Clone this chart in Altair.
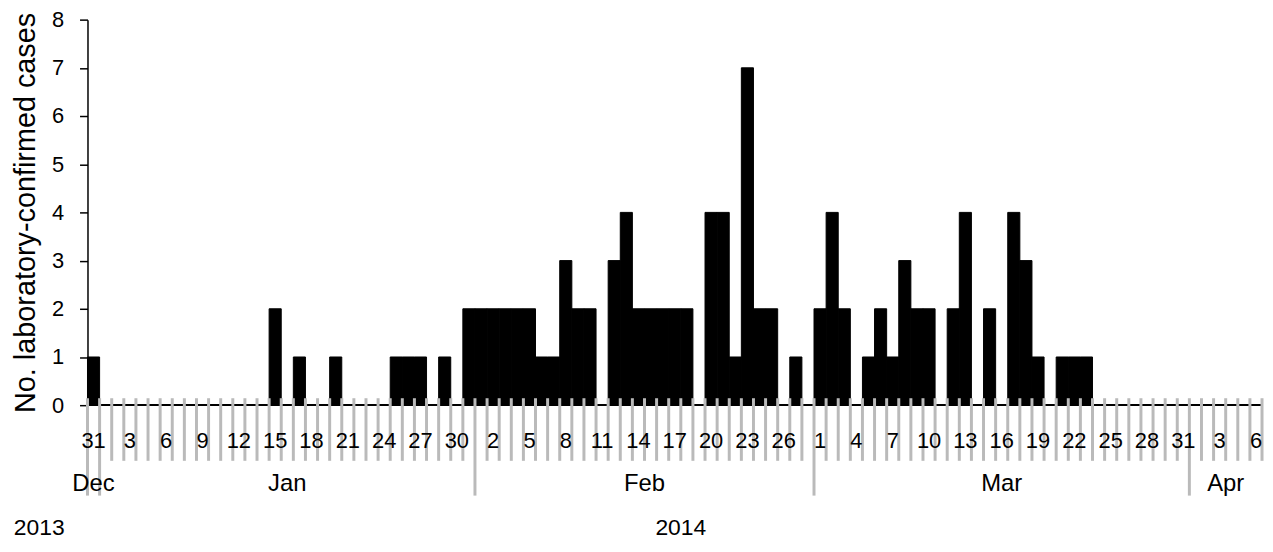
import altair as alt
import pandas as pd

# Daily laboratory-confirmed cases, starting 31 Dec 2013 (one value per day)
counts_dec_jan = [1, 0, 0, 0, 0, 0, 0, 0, 0, 0, 0, 0, 0, 0, 0, 2, 0, 1, 0, 0, 1,
                  0, 0, 0, 0, 1, 1, 1, 0, 1, 0, 2]
counts_feb = [2, 2, 2, 2, 2, 1, 1, 3, 2, 2, 0, 3, 4, 2, 2, 2, 2, 2, 0, 4, 4, 1,
              7, 2, 2, 0, 1, 0]
counts_mar_apr = [2, 4, 2, 0, 1, 2, 1, 3, 2, 2, 0, 2, 4, 0, 2, 0, 4, 3, 1, 0, 1,
                  1, 1, 0, 0, 0, 0, 0, 0, 0, 0, 0, 0, 0, 0, 0, 0]
counts = counts_dec_jan + counts_feb + counts_mar_apr
start_date = "2013-12-31"
y_title = "No. laboratory-confirmed cases"
y_ticks = [0, 1, 2, 3, 4, 5, 6, 7, 8]

dates = pd.date_range(start_date, periods=len(counts), freq="D")
n = len(counts)

bars = pd.DataFrame({"start": range(n), "end": range(1, n + 1), "count": counts})

bounds = list(range(n + 1))
bound_dates = pd.date_range(start_date, periods=n + 1, freq="D")
is_long = [(b == 0) or (d.day == 1) for b, d in zip(bounds, bound_dates)]
ticks = pd.DataFrame({"b": bounds, "long": is_long})

lab_idx = [i for i in range(n) if i % 3 == 0]
day_labels = pd.DataFrame({"pos": [i + 0.5 for i in lab_idx],
                           "txt": [str(dates[i].day) for i in lab_idx]})

# month spans along the axis
months = []
cur = None
for i, d in enumerate(dates):
    key = (d.year, d.month)
    if key != cur:
        months.append({"name": d.strftime("%b"), "start": i, "end": i + 1, "year": d.year})
        cur = key
    else:
        months[-1]["end"] = i + 1
month_df = pd.DataFrame(months)
month_df["mid"] = (month_df["start"] + month_df["end"]) / 2

years = month_df.groupby("year").agg(start=("start", "min"), end=("end", "max")).reset_index()
years["mid"] = (years["start"] + years["end"]) / 2
years["txt"] = years["year"].astype(str)

FONT = "Liberation Sans"
xs = alt.Scale(domain=[0, n], nice=False, zero=False, padding=0)
ys = alt.Scale(domain=[0, 8], nice=False)

bar_layer = alt.Chart(bars).mark_bar(color="black", stroke="black", strokeWidth=1).encode(
    x=alt.X("start:Q", scale=xs, axis=None),
    x2="end:Q",
    y=alt.Y("count:Q", scale=ys,
            axis=alt.Axis(values=y_ticks, title=y_title, grid=False,
                          titleFont=FONT, titleFontSize=29, titleFontWeight="normal",
                          titleColor="black", titlePadding=11,
                          labelFont=FONT, labelFontSize=22, labelColor="black",
                          labelPadding=16, tickSize=8, tickColor="black", tickWidth=1.5,
                          domainColor="black", domainWidth=1.5)),
    y2=alt.Y2(datum=0),
)

baseline = alt.Chart(bars).mark_rule(color="black", strokeWidth=1.6).encode(
    y=alt.Y(datum=0, scale=ys)
)

short_ticks = alt.Chart(ticks).transform_filter("!datum.long").mark_rule(
    color="#bababa", strokeWidth=3
).encode(x=alt.X("b:Q", scale=xs), y=alt.value(381), y2=alt.value(444))

long_ticks = alt.Chart(ticks).transform_filter("datum.long").mark_rule(
    color="#bababa", strokeWidth=3
).encode(x=alt.X("b:Q", scale=xs), y=alt.value(381), y2=alt.value(479))

day_text = alt.Chart(day_labels).mark_text(
    font=FONT, fontSize=22, color="black", baseline="middle", align="center"
).encode(x=alt.X("pos:Q", scale=xs), y=alt.value(424), text="txt:N")

month_text = alt.Chart(month_df).mark_text(
    font=FONT, fontSize=24, color="black", baseline="middle", align="center"
).encode(x=alt.X("mid:Q", scale=xs), y=alt.value(467), text="name:N")

year_2013 = alt.Chart(years).transform_filter("datum.year == 2013").mark_text(
    font=FONT, fontSize=23, color="black", baseline="middle", align="right", dx=-23
).encode(x=alt.X("start:Q", scale=xs), y=alt.value(512), text="txt:N")

year_2014 = alt.Chart(years).transform_filter("datum.year == 2014").mark_text(
    font=FONT, fontSize=23, color="black", baseline="middle", align="center"
).encode(x=alt.X("mid:Q", scale=xs), y=alt.value(512), text="txt:N")

chart = alt.layer(
    bar_layer, baseline, short_ticks, long_ticks, day_text, month_text, year_2013, year_2014
).properties(
    width=1182, height=388,
    padding={"left": 80, "top": 10, "right": 3, "bottom": 138},
    autosize=alt.AutoSizeParams(type="none"),
    background="white",
).configure_view(stroke=None)

chart.save("out.html", embed_options={"renderer": "svg", "actions": False})
